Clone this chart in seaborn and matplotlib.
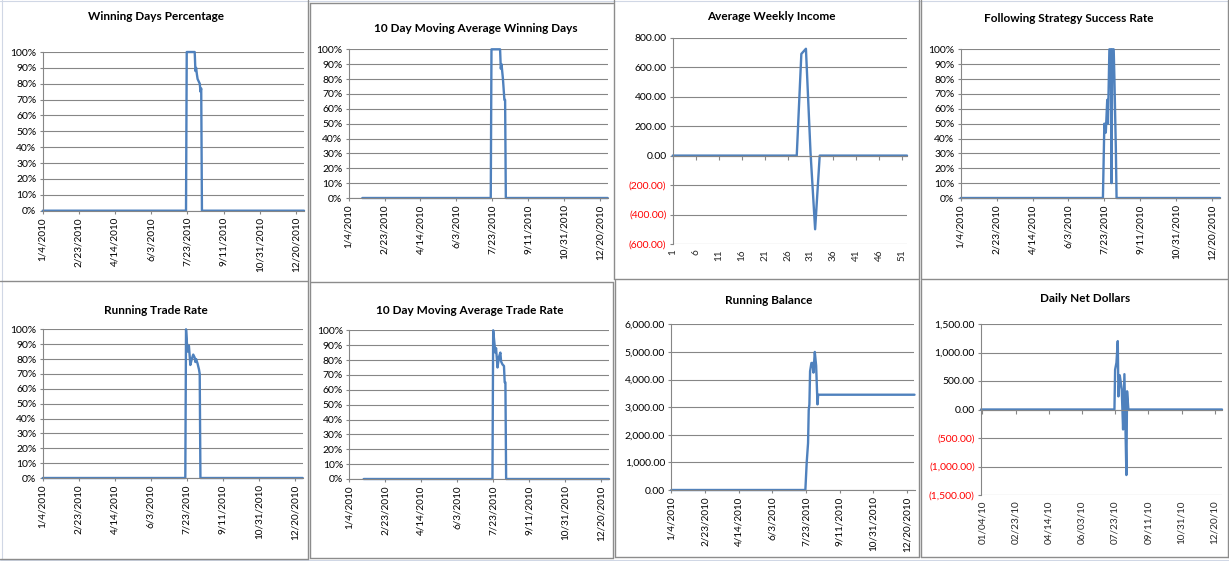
import matplotlib
matplotlib.use("Agg")
import matplotlib.pyplot as plt
import matplotlib.dates as mdates
from matplotlib.lines import Line2D
import seaborn as sns
import pandas as pd

# ---------------- data ----------------
date_ticks = ["2010-01-04", "2010-02-23", "2010-04-14", "2010-06-03",
              "2010-07-23", "2010-09-11", "2010-10-31", "2010-12-20"]
date_tick_labels = ["1/4/2010", "2/23/2010", "4/14/2010", "6/3/2010",
                    "7/23/2010", "9/11/2010", "10/31/2010", "12/20/2010"]
net_tick_labels = ["01/04/10", "02/23/10", "04/14/10", "06/03/10",
                   "07/23/10", "09/11/10", "10/31/10", "12/20/10"]

pct_ticks = [0, 10, 20, 30, 40, 50, 60, 70, 80, 90, 100]

win_days_dates = ["2010-01-04", "2010-07-21", "2010-07-22", "2010-08-02", "2010-08-03",
                  "2010-08-04", "2010-08-05", "2010-08-06", "2010-08-09", "2010-08-10",
                  "2010-08-11", "2010-08-12", "2010-12-31"]
win_days_pct = [0, 0, 100, 100, 88, 90, 86, 83, 80, 75, 77, 0, 0]

ma_win_dates = ["2010-01-23", "2010-07-21", "2010-07-22", "2010-08-03", "2010-08-04",
                "2010-08-05", "2010-08-06", "2010-08-07", "2010-08-09", "2010-08-10",
                "2010-08-11", "2010-12-31"]
ma_win_pct = [0, 0, 100, 100, 87, 90, 85, 80, 66, 66, 0, 0]

weeks = [1, 28, 29, 30, 31, 32, 33, 52]
weekly_income = [0, 0, 690, 725, 20, -500, 0, 0]
week_ticks = [1, 6, 11, 16, 21, 26, 31, 36, 41, 46, 51]
income_ticks = [-600, -400, -200, 0, 200, 400, 600, 800]

follow_dates = ["2010-01-04", "2010-07-21", "2010-07-23", "2010-07-25", "2010-07-27",
                "2010-07-28", "2010-07-30", "2010-08-01", "2010-08-02", "2010-08-03",
                "2010-08-05", "2010-08-06", "2010-08-08", "2010-08-09", "2010-12-31"]
follow_pct = [0, 0, 50, 44, 66, 50, 100, 100, 10, 100, 100, 80, 33, 0, 0]

trade_dates = ["2010-01-04", "2010-07-21", "2010-07-22", "2010-07-24", "2010-07-26",
               "2010-07-28", "2010-07-30", "2010-08-01", "2010-08-03", "2010-08-04",
               "2010-08-05", "2010-08-07", "2010-08-09", "2010-08-10", "2010-08-11",
               "2010-12-31"]
trade_pct = [0, 0, 100, 85, 89, 76, 80, 83, 81, 78, 80, 77, 73, 70, 0, 0]

ma_trade_dates = ["2010-01-24", "2010-07-22", "2010-07-23", "2010-07-25", "2010-07-26",
                  "2010-07-27", "2010-07-29", "2010-07-31", "2010-08-02", "2010-08-03",
                  "2010-08-05", "2010-08-07", "2010-08-08", "2010-08-09", "2010-08-10",
                  "2010-12-31"]
ma_trade_pct = [0, 0, 100, 90, 85, 88, 75, 82, 85, 79, 77, 76, 65, 65, 0, 0]

balance_dates = ["2010-01-04", "2010-07-22", "2010-07-24", "2010-07-26", "2010-07-27",
                 "2010-07-28", "2010-07-29", "2010-07-31", "2010-08-02", "2010-08-03",
                 "2010-08-05", "2010-08-07", "2010-08-09", "2010-08-10", "2010-12-31"]
balance = [0, 0, 1000, 1700, 2900, 3100, 4300, 4600, 4600, 4250, 5000, 4500, 3100, 3450, 3450]
balance_ticks = [0, 1000, 2000, 3000, 4000, 5000, 6000]

net_dates = ["2010-01-02", "2010-07-22", "2010-07-23", "2010-07-25", "2010-07-27",
             "2010-07-28", "2010-07-30", "2010-08-02", "2010-08-04", "2010-08-06",
             "2010-08-09", "2010-08-10", "2010-08-12", "2010-12-31"]
net_dollars = [0, 0, 700, 820, 1200, 230, 600, 350, -350, 620, -1150, 320, 0, 0]
net_ticks = [-1500, -1000, -500, 0, 500, 1000, 1500]

# ---------------- style ----------------
sns.set_theme(style="white")
plt.rcParams['font.family'] = ['Lato', 'DejaVu Sans']

W, H = 1229, 561
fig = plt.figure(figsize=(W / 100, H / 100), dpi=100)
fig.patch.set_facecolor("white")

LINE = "#4F81BD"
GRID = "#868686"
FRAME = "#8C8C8C"
YTICK_FS = 7.5
XTICK_FS = 7.2
TITLE_FS = 8.5


def box(x0, y0, x1, y1):
    return [x0 / W, 1 - y1 / H, (x1 - x0) / W, (y1 - y0) / H]


def money(v):
    s = f"{abs(v):,.2f}"
    return f"({s})" if v < 0 else s


def base_axes(rect, title, title_xy):
    ax = fig.add_axes(box(*rect))
    ax.set_facecolor("white")
    for s in ("top", "right"):
        ax.spines[s].set_visible(False)
    for s in ("left", "bottom"):
        ax.spines[s].set_color(GRID)
        ax.spines[s].set_linewidth(0.8)
    ax.yaxis.grid(True, color=GRID, linewidth=0.8)
    ax.xaxis.grid(False)
    ax.set_axisbelow(True)
    ax.tick_params(axis="both", which="major", direction="out", length=2.5,
                   width=0.8, color=GRID, pad=2,
                   left=True, bottom=True, labelcolor="black")
    ax.tick_params(axis="y", labelsize=YTICK_FS)
    ax.tick_params(axis="x", labelsize=XTICK_FS)
    fig.text(title_xy[0] / W, 1 - title_xy[1] / H, title, ha="center", va="center",
             fontsize=TITLE_FS, fontweight="bold", color="black")
    return ax


def draw_line(ax, x, y):
    sns.lineplot(x=x, y=y, ax=ax, color=LINE, linewidth=1.7, clip_on=False)
    ax.set_xlabel("")
    ax.set_ylabel("")


def date_panel(rect, title, title_xy, dates, vals, yticks, ylabels, xlabels,
               xstart="2010-01-04", axis_at_zero=False, neg_red=False):
    ax = base_axes(rect, title, title_xy)
    d = pd.to_datetime(dates)
    draw_line(ax, d, vals)
    ax.set_xlim(pd.Timestamp(xstart), pd.Timestamp("2010-12-31"))
    ax.set_ylim(yticks[0], yticks[-1])
    ax.set_yticks(yticks)
    ax.set_yticklabels(ylabels)
    tick_pos = mdates.date2num(pd.to_datetime(date_ticks))
    if axis_at_zero:
        ax.spines["bottom"].set_position(("data", 0))
        ax.set_xticks(tick_pos)
        ax.tick_params(axis="x", labelbottom=False, length=3)
        sec = ax.secondary_xaxis(0)
        sec.set_xticks(tick_pos)
        sec.set_xticklabels(xlabels, rotation=90, fontsize=XTICK_FS)
        sec.tick_params(length=0, pad=4)
        sec.spines["bottom"].set_visible(False)
    else:
        ax.set_xticks(tick_pos)
        ax.set_xticklabels(xlabels, rotation=90)
    if neg_red:
        for t, v in zip(ax.get_yticklabels(), yticks):
            t.set_color("#FF0000" if v < 0 else "black")
    return ax


pct_labels = [f"{t}%" for t in pct_ticks]

# Row 1
date_panel((42.7, 52, 304, 210.7), "Winning Days Percentage", (156, 17),
           win_days_dates, win_days_pct, pct_ticks, pct_labels, date_tick_labels)
date_panel((348.7, 49.3, 607.7, 198), "10 Day Moving Average Winning Days", (476, 29),
           ma_win_dates, ma_win_pct, pct_ticks, pct_labels, date_tick_labels)

# Average weekly income (category axis)
ax3 = base_axes((672.7, 37.7, 907, 244), "Average Weekly Income", (771, 17))
draw_line(ax3, weeks, weekly_income)
ax3.set_xlim(1, 52)
ax3.set_ylim(income_ticks[0], income_ticks[-1])
ax3.set_yticks(income_ticks)
ax3.set_yticklabels([money(v) for v in income_ticks])
for t, v in zip(ax3.get_yticklabels(), income_ticks):
    t.set_color("#FF0000" if v < 0 else "black")
ax3.spines["bottom"].set_position(("data", 0))
ax3.set_xticks(week_ticks)
ax3.tick_params(axis="x", labelbottom=False, length=3)
sec3 = ax3.secondary_xaxis(0)
sec3.set_xticks(week_ticks)
sec3.set_xticklabels([str(w) for w in week_ticks], rotation=90, fontsize=XTICK_FS)
sec3.tick_params(length=0, pad=4)
sec3.spines["bottom"].set_visible(False)

date_panel((960.7, 49.3, 1220, 198), "Following Strategy Success Rate", (1069, 19),
           follow_dates, follow_pct, pct_ticks, pct_labels, date_tick_labels)

# Row 2
date_panel((42.7, 329.3, 302.7, 478), "Running Trade Rate", (156, 310),
           trade_dates, trade_pct, pct_ticks, pct_labels, date_tick_labels)
date_panel((349.3, 330.3, 609, 479), "10 Day Moving Average Trade Rate", (470, 310),
           ma_trade_dates, ma_trade_pct, pct_ticks, pct_labels, date_tick_labels)
date_panel((671.3, 324.3, 914.5, 490), "Running Balance", (769, 300),
           balance_dates, balance, balance_ticks, [money(v) for v in balance_ticks],
           date_tick_labels)
date_panel((981, 324, 1222, 495), "Daily Net Dollars", (1085, 299),
           net_dates, net_dollars, net_ticks, [money(v) for v in net_ticks],
           net_tick_labels, xstart="2010-01-02", axis_at_zero=True, neg_red=True)

# ---------------- chart frames ----------------
def seg(x0, y0, x1, y1, color=FRAME, lw=1.0):
    fig.add_artist(Line2D([x0 / W, x1 / W], [1 - y0 / H, 1 - y1 / H],
                          color=color, linewidth=lw, transform=fig.transFigure))

# faint spreadsheet lines
seg(1.5, 0, 1.5, H, color="#D0D7E5", lw=0.8)
seg(0, 0.5, W, 0.5, color="#D0D7E5", lw=0.8)
seg(0, 559.5, W, 559.5, color="#D0D7E5", lw=0.8)

# top row
seg(308, 0, 308, 281)
seg(0, 281, 308, 281)
seg(310, 3, 310, 281)
seg(310, 3, 613, 3)
seg(614, 0, 614, 279)
seg(614, 279, 919.5, 279)
seg(919.5, 0, 919.5, 279)
seg(921, 0, 921, 279)
seg(921, 279, W, 279)
seg(1227.5, 0, 1227.5, 279)
# bottom row
seg(308, 281, 308, 559)
seg(0, 559, 308, 559)
seg(310, 282, 613, 282)
seg(310, 282, 310, 558)
seg(310, 558, 613, 558)
seg(613, 282, 613, 558)
seg(614.5, 280, 614.5, 557)
seg(614.5, 557, 919, 557)
seg(919, 280, 919, 557)
seg(921, 280, 921, 557)
seg(921, 557, W, 557)
seg(1227.5, 280, 1227.5, 557)

fig.savefig("out.png", dpi=100, facecolor="white")
